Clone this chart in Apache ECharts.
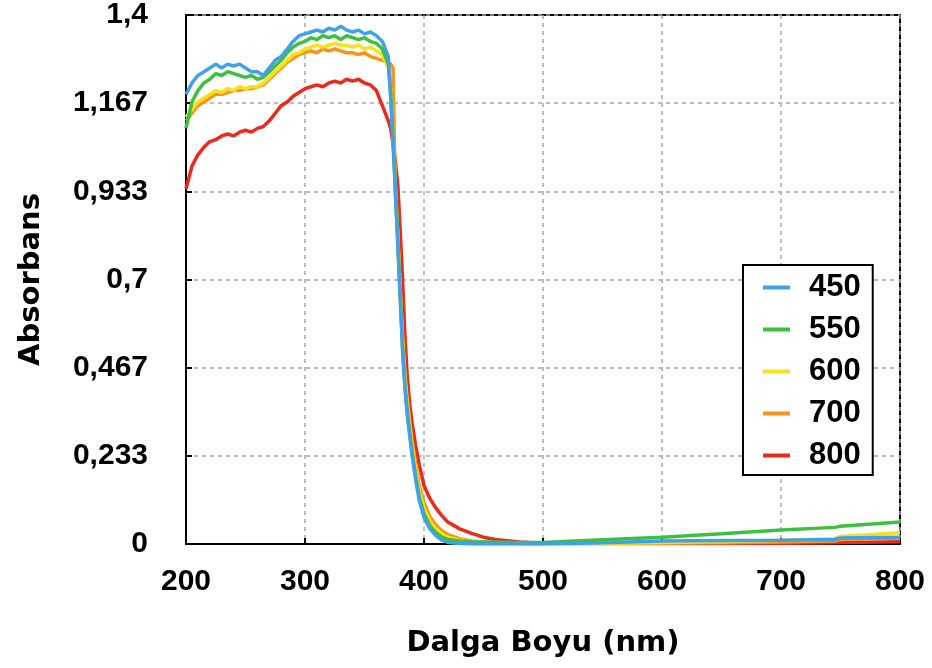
<!DOCTYPE html>
<html>
<head>
<meta charset="utf-8">
<script src="https://cdn.jsdelivr.net/npm/echarts@6/dist/echarts.min.js"></script>
<style>
  html, body { margin: 0; padding: 0; background: #fff; }
  #chart { width: 932px; height: 668px; }
</style>
</head>
<body>
<div id="chart"></div>
<script>
// dalga boyu (nm)
const wl = [
  200, 205, 210, 215, 220, 225, 230, 235, 240, 245, 250, 255, 260, 265, 270, 275, 280, 285,
  290, 295, 300, 305, 310, 315, 320, 325, 330, 335, 340, 345, 350, 355, 360, 365, 370,
  372, 374, 376, 378, 380, 382, 384, 386, 388, 390,
  393, 396, 400, 405, 410, 415, 420, 430, 440, 450, 460, 480, 500,
  550, 600, 650, 700, 745, 750, 800
];

// absorbans değerleri
const a450 = [
  1.19, 1.22, 1.24, 1.25, 1.26, 1.27, 1.26, 1.27, 1.265, 1.27, 1.26, 1.25, 1.25, 1.24, 1.26, 1.28, 1.29, 1.31,
  1.33, 1.345, 1.35, 1.355, 1.36, 1.355, 1.365, 1.36, 1.37, 1.36, 1.355, 1.36, 1.35, 1.355, 1.345, 1.33, 1.29,
  1.18, 1.06, 0.93, 0.79, 0.65, 0.51, 0.41, 0.34, 0.285, 0.235,
  0.17, 0.115, 0.07, 0.04, 0.022, 0.01, 0.004, 0.001, 0, 0, 0, 0, 0,
  0.003, 0.008, 0.009, 0.01, 0.012, 0.016, 0.018
];
const a550 = [
  1.10, 1.17, 1.20, 1.22, 1.23, 1.245, 1.24, 1.25, 1.245, 1.24, 1.235, 1.24, 1.23, 1.235, 1.25, 1.265, 1.28, 1.30,
  1.315, 1.325, 1.33, 1.34, 1.335, 1.345, 1.34, 1.345, 1.335, 1.345, 1.34, 1.335, 1.34, 1.33, 1.325, 1.31, 1.27,
  1.19, 1.07, 0.94, 0.80, 0.66, 0.52, 0.42, 0.35, 0.295, 0.245,
  0.18, 0.125, 0.08, 0.048, 0.03, 0.018, 0.012, 0.008, 0.006, 0.005, 0.005, 0.004, 0.004,
  0.011, 0.018, 0.027, 0.037, 0.044, 0.047, 0.058
];
const a600 = [
  1.13, 1.15, 1.17, 1.18, 1.19, 1.20, 1.195, 1.205, 1.20, 1.21, 1.205, 1.21, 1.21, 1.22, 1.235, 1.25, 1.265, 1.28,
  1.295, 1.30, 1.31, 1.315, 1.32, 1.315, 1.32, 1.325, 1.32, 1.32, 1.315, 1.32, 1.31, 1.315, 1.305, 1.295, 1.26,
  1.20, 1.08, 0.95, 0.81, 0.67, 0.54, 0.44, 0.37, 0.31, 0.26,
  0.195, 0.14, 0.095, 0.06, 0.04, 0.027, 0.018, 0.01, 0.006, 0.004, 0.003, 0.002, 0.001,
  0.002, 0.004, 0.006, 0.01, 0.014, 0.02, 0.03
];
const a700 = [
  1.12, 1.14, 1.16, 1.17, 1.18, 1.19, 1.19, 1.195, 1.20, 1.20, 1.205, 1.205, 1.21, 1.215, 1.23, 1.245, 1.26, 1.275,
  1.285, 1.295, 1.30, 1.305, 1.30, 1.31, 1.305, 1.31, 1.305, 1.30, 1.30, 1.295, 1.30, 1.29, 1.285, 1.28, 1.275,
  1.27, 1.26, 0.92, 0.82, 0.68, 0.55, 0.45, 0.38, 0.325, 0.275,
  0.21, 0.155, 0.11, 0.072, 0.05, 0.035, 0.025, 0.014, 0.008, 0.005, 0.003, 0.002, 0.001,
  0.001, 0.002, 0.003, 0.005, 0.008, 0.012, 0.016
];
const a800 = [
  0.94, 1.00, 1.03, 1.05, 1.065, 1.07, 1.08, 1.085, 1.08, 1.09, 1.095, 1.09, 1.10, 1.105, 1.12, 1.14, 1.16, 1.17,
  1.185, 1.195, 1.205, 1.21, 1.215, 1.21, 1.22, 1.225, 1.22, 1.23, 1.225, 1.23, 1.22, 1.215, 1.20, 1.16, 1.12,
  1.10, 1.06, 1.01, 0.95, 0.83, 0.70, 0.55, 0.44, 0.37, 0.32,
  0.26, 0.21, 0.155, 0.12, 0.095, 0.075, 0.058, 0.04, 0.028, 0.018, 0.012, 0.005, 0.002,
  0.001, 0.001, 0.001, 0.002, 0.003, 0.004, 0.006
];

const legendNames = ['450', '550', '600', '700', '800'];
const xTickLabels = ['200', '300', '400', '500', '600', '700', '800'];
const yTickLabels = ['0', '0,233', '0,467', '0,7', '0,933', '1,167', '1,4'];

const colors = {
  '450': '#40a0e8',
  '550': '#3fbf3f',
  '600': '#f7e01e',
  '700': '#f5961a',
  '800': '#ea2a1a'
};

const toPairs = (ys) => wl.map((x, i) => [x, ys[i]]);

const chart = echarts.init(document.getElementById('chart'));

// kırmızı altta, mavi üstte çizilsin
const drawOrder = [['800', a800], ['700', a700], ['600', a600], ['550', a550], ['450', a450]];

const tickFont = {
  color: '#000',
  fontFamily: 'Liberation Sans',
  fontWeight: 'bold',
  fontSize: 30
};

const option = {
  animation: false,
  backgroundColor: '#fff',
  grid: {
    left: 186,
    right: 32,
    top: 15,
    bottom: 124,
    show: true,
    borderColor: '#000',
    borderWidth: 2
  },
  legend: {
    data: legendNames,
    orient: 'vertical',
    left: 743,
    top: 265,
    icon: 'rect',
    itemWidth: 27,
    itemHeight: 4,
    itemGap: 11,
    padding: [7, 12, 4, 20],
    borderColor: '#000',
    borderWidth: 2,
    backgroundColor: '#fff',
    textStyle: {
      color: '#000',
      fontFamily: 'Liberation Sans',
      fontWeight: 'bold',
      fontSize: 31,
      lineHeight: 30,
      padding: [0, 0, 0, 14]
    }
  },
  xAxis: {
    type: 'value',
    min: 200,
    max: 800,
    interval: 100,
    name: 'Dalga Boyu (nm)',
    nameLocation: 'middle',
    nameGap: 85,
    nameTextStyle: {
      color: '#000',
      fontFamily: 'DejaVu Sans',
      fontWeight: 'bold',
      fontSize: 29
    },
    axisLine: { show: true, lineStyle: { color: '#000', width: 2 } },
    axisTick: { show: true, inside: true, length: 6, lineStyle: { color: '#000', width: 2 } },
    axisLabel: Object.assign({
      margin: 23,
      formatter: (v, i) => xTickLabels[i]
    }, tickFont),
    splitLine: { show: true, lineStyle: { color: '#a8a8a8', width: 1.5, type: [4, 4] } }
  },
  yAxis: {
    type: 'value',
    min: 0,
    max: 1.4,
    interval: 1.4 / 6,
    name: 'Absorbans',
    nameLocation: 'middle',
    nameGap: 140,
    nameTextStyle: {
      color: '#000',
      fontFamily: 'DejaVu Sans',
      fontWeight: 'bold',
      fontSize: 29
    },
    axisLine: { show: true, lineStyle: { color: '#000', width: 2 } },
    axisTick: { show: true, inside: true, length: 6, lineStyle: { color: '#000', width: 2 } },
    axisLabel: Object.assign({
      margin: 38,
      formatter: (v, i) => yTickLabels[i]
    }, tickFont),
    splitLine: { show: true, lineStyle: { color: '#a8a8a8', width: 1.5, type: [4, 4] } }
  },
  series: drawOrder.map(([name, ys]) => ({
    name: name,
    type: 'line',
    data: toPairs(ys),
    showSymbol: false,
    symbol: 'none',
    lineStyle: { color: colors[name], width: 3.5 },
    itemStyle: { color: colors[name] }
  }))
};

chart.setOption(option);
</script>
</body>
</html>
